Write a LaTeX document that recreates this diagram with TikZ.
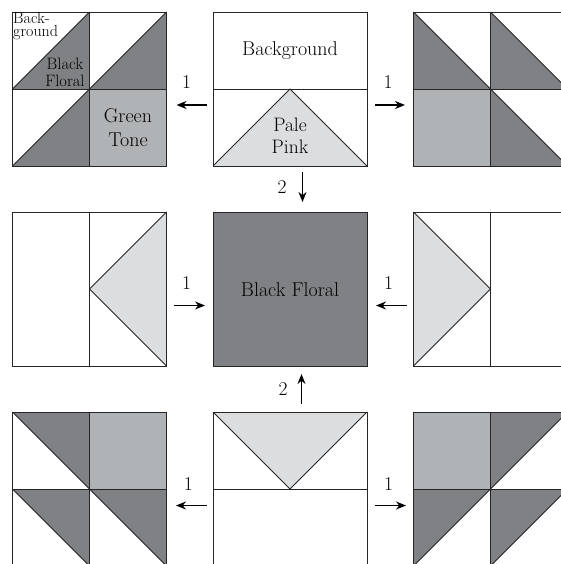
\documentclass[tikz,border=0pt]{standalone}
\usetikzlibrary{arrows.meta}
\definecolor{floral}{HTML}{808184}
\definecolor{greentone}{HTML}{B0B3B5}
\definecolor{palepink}{HTML}{DCDDDF}
\tikzset{
  seam/.style={draw=black!85, line width=0.9pt},
  arr/.style={-{Stealth[length=10pt,width=8pt]}, line width=1.8pt},
  num/.style={inner sep=0pt, font=\fontsize{19.5}{19.5}\selectfont},
  lbl/.style={align=center, inner sep=0pt, font=\fontsize{20}{24}\selectfont}
}
\begin{document}
\begin{tikzpicture}[x=1pt,y=-1pt]
        \useasboundingbox (0,0) rectangle (561,564);
        \clip (0,0) rectangle (561,564);
        % top left block
        \fill[floral] (12.5,89) -- (89.5,12) -- (89.5,89) -- cycle;
        \fill[floral] (89.5,89) -- (166.5,12) -- (166.5,89) -- cycle;
        \fill[floral] (12.5,166) -- (89.5,89) -- (89.5,166) -- cycle;
        \fill[greentone] (89.5,89) rectangle (166.5,166);
        \draw[seam] (12.5,12) rectangle (166.5,166);
        \draw[seam] (89.5,12) -- (89.5,166);
        \draw[seam] (12.5,89) -- (166.5,89);
        \draw[seam] (12.5,89) -- (89.5,12);
        \draw[seam] (89.5,89) -- (166.5,12);
        \draw[seam] (12.5,166) -- (89.5,89);
        \node[anchor=north west, align=left, inner sep=0pt, font=\fontsize{16}{12.5}\selectfont] (bg1) at (13,12.5) {Back-\\ground};
        \node[align=center, inner sep=0pt, font=\fontsize{16.5}{17}\selectfont] (bf1) at (65,72) {Black\\Floral};
        \node[lbl] (gt1) at (128,128) {Green\\Tone};
        % top middle block
        \fill[palepink] (213,166) -- (290,89) -- (367,166) -- cycle;
        \draw[seam] (213,12) rectangle (367,166);
        \draw[seam] (213,89) -- (367,89);
        \draw[seam] (213,166) -- (290,89) -- (367,166);
        \node[lbl] (bg2) at (290,51) {Background};
        \node[lbl, font=\fontsize{19.5}{22}\selectfont] (pp2) at (290,136) {Pale\\Pink};
        % top right block
        \fill[floral] (413.5,12) -- (490.5,89) -- (413.5,89) -- cycle;
        \fill[floral] (490.5,12) -- (567.5,89) -- (490.5,89) -- cycle;
        \fill[greentone] (413.5,89) rectangle (490.5,166);
        \fill[floral] (490.5,89) -- (567.5,166) -- (490.5,166) -- cycle;
        \draw[seam] (413.5,12) rectangle (567.5,166);
        \draw[seam] (490.5,12) -- (490.5,166);
        \draw[seam] (413.5,89) -- (567.5,89);
        \draw[seam] (413.5,12) -- (490.5,89);
        \draw[seam] (490.5,12) -- (567.5,89);
        \draw[seam] (490.5,89) -- (567.5,166);
        % middle row
        \fill[palepink] (166.5,212) -- (89.5,289) -- (166.5,366) -- cycle;
        \draw[seam] (12.5,212) rectangle (166.5,366);
        \draw[seam] (89.5,212) -- (89.5,366);
        \draw[seam] (166.5,212) -- (89.5,289) -- (166.5,366);
        \fill[floral] (213,212) rectangle (367,366);
        \draw[seam] (213,212) rectangle (367,366);
        \node[lbl] (bf2) at (290,290) {Black Floral};
        \fill[palepink] (413.5,212) -- (490.5,289) -- (413.5,366) -- cycle;
        \draw[seam] (413.5,212) rectangle (567.5,366);
        \draw[seam] (490.5,212) -- (490.5,366);
        \draw[seam] (413.5,212) -- (490.5,289) -- (413.5,366);
        % bottom left block
        \fill[floral] (12.5,412) -- (89.5,412) -- (89.5,489) -- cycle;
        \fill[greentone] (89.5,412) rectangle (166.5,489);
        \fill[floral] (12.5,489) -- (89.5,489) -- (89.5,566) -- cycle;
        \fill[floral] (89.5,489) -- (166.5,489) -- (166.5,566) -- cycle;
        \draw[seam] (12.5,412) rectangle (166.5,566);
        \draw[seam] (89.5,412) -- (89.5,566);
        \draw[seam] (12.5,489) -- (166.5,489);
        \draw[seam] (12.5,412) -- (89.5,489);
        \draw[seam] (12.5,489) -- (89.5,566);
        \draw[seam] (89.5,489) -- (166.5,566);
        % bottom middle block
        \fill[palepink] (213,412) -- (367,412) -- (290,489) -- cycle;
        \draw[seam] (213,412) rectangle (367,566);
        \draw[seam] (213,489) -- (367,489);
        \draw[seam] (213,412) -- (290,489) -- (367,412);
        % bottom right block
        \fill[greentone] (413.5,412) rectangle (490.5,489);
        \fill[floral] (490.5,412) -- (567.5,412) -- (490.5,489) -- cycle;
        \fill[floral] (413.5,489) -- (490.5,489) -- (413.5,566) -- cycle;
        \fill[floral] (490.5,489) -- (567.5,489) -- (490.5,566) -- cycle;
        \draw[seam] (413.5,412) rectangle (567.5,566);
        \draw[seam] (490.5,412) -- (490.5,566);
        \draw[seam] (413.5,489) -- (567.5,489);
        \draw[seam] (490.5,489) -- (567.5,412);
        \draw[seam] (413.5,566) -- (490.5,489);
        \draw[seam] (490.5,566) -- (567.5,489);
        % arrow ends
        \coordinate (tl0) at (206.5,105);
        \coordinate (tl1) at (176.5,105);
        \coordinate (tr0) at (375,105);
        \coordinate (tr1) at (405,105);
        \coordinate (td0) at (302.5,172);
        \coordinate (td1) at (302.5,202);
        \coordinate (ml0) at (174,305.5);
        \coordinate (ml1) at (205,305.5);
        \coordinate (mr0) at (407,305.5);
        \coordinate (mr1) at (376,305.5);
        \coordinate (bu0) at (301.5,404);
        \coordinate (bu1) at (301.5,374);
        \coordinate (bl0) at (206.5,505.5);
        \coordinate (bl1) at (176,505.5);
        \coordinate (br0) at (375,505.5);
        \coordinate (br1) at (406,505.5);
        % arrows
        \draw[arr] (tl0) -- node[num, above=16pt, xshift=-5pt] (n1) {1} (tl1);
        \draw[arr] (tr0) -- node[num, above=16pt, xshift=-2pt] (n2) {1} (tr1);
        \draw[arr] (td0) -- node[num, left=15pt] (n3) {2} (td1);
        \draw[arr] (ml0) -- node[num, above=15pt, xshift=-3pt] (n4) {1} (ml1);
        \draw[arr] (mr0) -- node[num, above=15pt, xshift=-3pt] (n5) {1} (mr1);
        \draw[arr] (bu0) -- node[num, left=13pt] (n6) {2} (bu1);
        \draw[arr] (bl0) -- node[num, above=14pt, xshift=-3pt] (n7) {1} (bl1);
        \draw[arr] (br0) -- node[num, above=14pt, xshift=-2pt] (n8) {1} (br1);
      \end{tikzpicture}
\end{document}
